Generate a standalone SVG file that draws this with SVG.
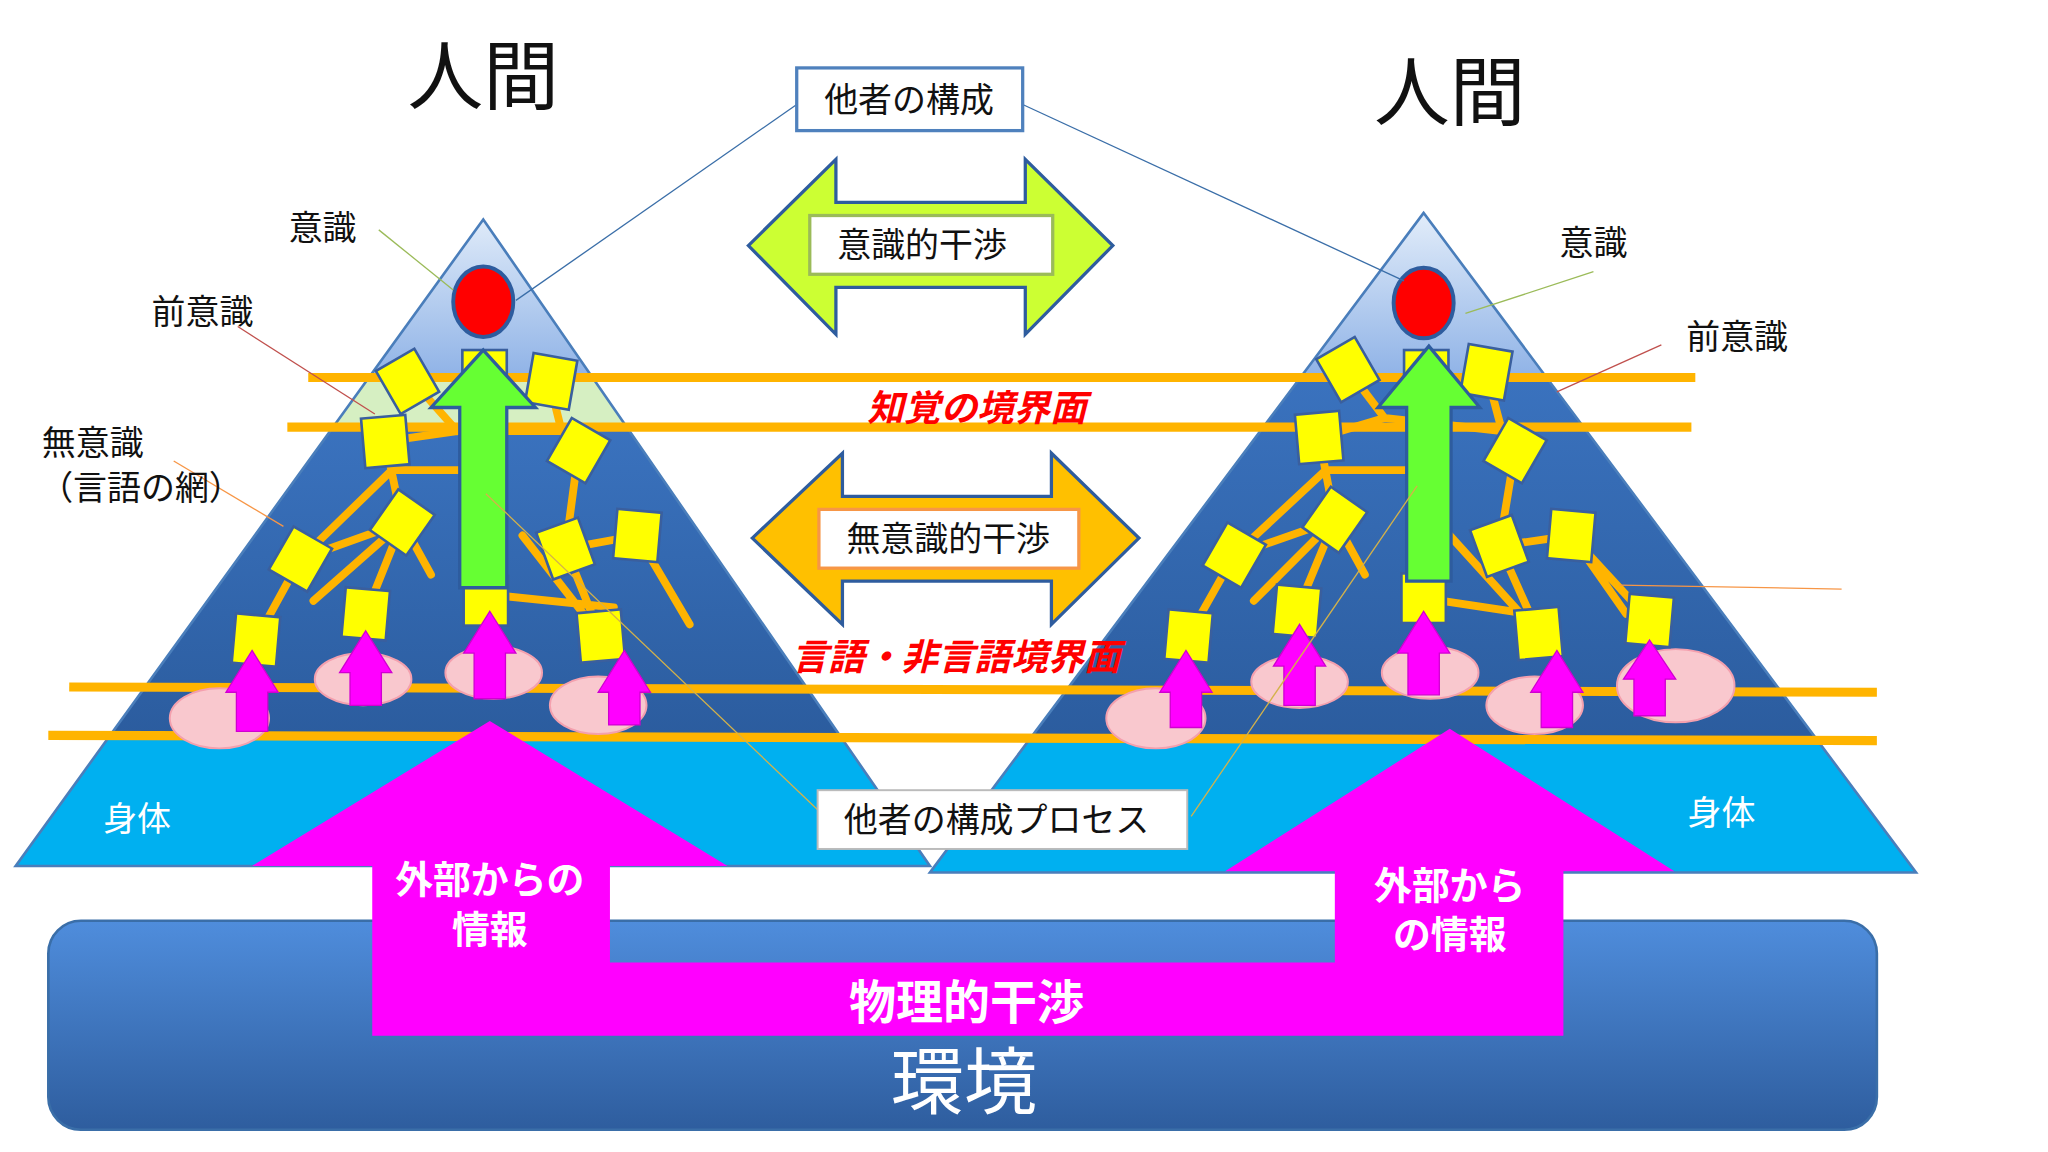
<svg xmlns="http://www.w3.org/2000/svg" width="2048" height="1152" viewBox="0 0 2048 1152">
<defs>
<style>
.jp{font-family:"Noto Sans CJK JP","Noto Sans CJK SC",sans-serif}
.lbl{font-size:26px;fill:#111}
.bx{fill:#fff;stroke:#4F81BD;stroke-width:2.5}
.ol{stroke:#FFB400;stroke-width:7;fill:none}
.net{stroke:#FFB400;stroke-width:6;fill:none;stroke-linecap:round}
.sq{fill:#FFFF00;stroke:#3A5F9E;stroke-width:2}
.pk{fill:#F9C8CE;stroke:#F4A0AE;stroke-width:1.5}
.mg{fill:#FF00FF;stroke:#D000D0;stroke-width:1}
.wt{fill:#fff;font-weight:bold}
.rd{fill:#FF0000;font-weight:bold;font-style:italic;font-size:28px}
</style>
<linearGradient id="top" x1="0" y1="0" x2="0" y2="1"><stop offset="0" stop-color="#E4EEFA"/><stop offset="1" stop-color="#8DB1E6"/></linearGradient>
<linearGradient id="dk" x1="0" y1="0" x2="0" y2="1"><stop offset="0" stop-color="#3A72BE"/><stop offset="1" stop-color="#2B5C9E"/></linearGradient>
<linearGradient id="env" x1="0" y1="0" x2="0" y2="1"><stop offset="0" stop-color="#4F8DDC"/><stop offset="1" stop-color="#2E5D9E"/></linearGradient>
<clipPath id="cl"><polygon points="370,168 12,663 712,663"/></clipPath>
<clipPath id="cr"><polygon points="1090,163 712,668 1467,668"/></clipPath>
<rect id="s" x="-17" y="-19" width="34" height="38" class="sq"/>
</defs>
<g transform="scale(1.3061)">
<g id="pyramid-left">
<g clip-path="url(#cl)">
<rect x="0" y="160" width="720" height="132" fill="url(#top)"/>
<rect x="0" y="290" width="720" height="38" fill="#D6EFC2"/>
<rect x="0" y="327" width="720" height="240" fill="url(#dk)"/>
<rect x="0" y="565" width="720" height="100" fill="#00B0F0"/>
</g>
<polygon points="370,168 12,663 712,663" fill="none" stroke="#4A7EBB" stroke-width="2"/>
</g>
<g id="pyramid-right">
<g clip-path="url(#cr)">
<rect x="700" y="160" width="780" height="132" fill="url(#top)"/>
<rect x="700" y="290" width="780" height="280" fill="url(#dk)"/>
<rect x="700" y="568" width="780" height="102" fill="#00B0F0"/>
</g>
<polygon points="1090,163 712,668 1467,668" fill="none" stroke="#4A7EBB" stroke-width="2"/>
</g>
<g id="network">
<path class="net" d="M196,490 L230,428 L308,400 L295,338 L350,330 L430,330 L443,345 L433,420 L488,410 L528,478 M230,428 L300,360 L370,360 M308,400 L280,470 M433,420 L460,487 M372,460 L372,500 M372,455 L470,465 M400,410 L460,487 M310,285 L350,330 M420,290 L430,330 M240,460 L308,400 L330,440"/>
<path class="net" d="M910,487 L945,425 L1022,398 L1010,335 L1060,320 L1150,330 L1160,345 L1148,418 L1203,410 L1245,470 M945,425 L1015,360 L1080,360 M1022,398 L993,468 M1148,418 L1178,485 M1090,458 L1170,470 M1110,410 L1178,485 M1032,283 L1060,320 M1138,285 L1150,330 M960,460 L1022,398 L1045,440 M1203,410 L1263,475"/>
</g>
<g id="boundaries">
<line class="ol" x1="236" y1="289" x2="1298" y2="289"/>
<line class="ol" x1="220" y1="327" x2="1295" y2="327"/>
<line class="ol" x1="53" y1="526" x2="1437" y2="530"/>
<line class="ol" x1="37" y1="563" x2="1437" y2="567"/>
</g>
<g id="ellipses">
<ellipse class="pk" cx="168" cy="550" rx="38" ry="23"/>
<ellipse class="pk" cx="278" cy="520" rx="37" ry="20"/>
<ellipse class="pk" cx="378" cy="515" rx="37" ry="20"/>
<ellipse class="pk" cx="458" cy="540" rx="37" ry="22"/>
<ellipse class="pk" cx="885" cy="550" rx="38" ry="23"/>
<ellipse class="pk" cx="995" cy="522" rx="37" ry="20"/>
<ellipse class="pk" cx="1095" cy="515" rx="37" ry="20"/>
<ellipse class="pk" cx="1175" cy="540" rx="37" ry="22"/>
<ellipse class="pk" cx="1283" cy="525" rx="45" ry="28"/>
</g>
<g id="squares">
<use href="#s" transform="translate(312,292) rotate(-30)"/>
<use href="#s" transform="translate(422,292) rotate(10)"/>
<use href="#s" transform="translate(295,338) rotate(-5)"/>
<use href="#s" transform="translate(443,345) rotate(30)"/>
<use href="#s" transform="translate(308,400) rotate(35)"/>
<use href="#s" transform="translate(230,428) rotate(30)"/>
<use href="#s" transform="translate(433,420) rotate(-20)"/>
<use href="#s" transform="translate(488,410) rotate(5)"/>
<use href="#s" transform="translate(280,470) rotate(5)"/>
<use href="#s" transform="translate(196,490) rotate(5)"/>
<use href="#s" transform="translate(372,460)"/>
<use href="#s" transform="translate(460,487) rotate(-5)"/>
<use href="#s" transform="translate(1032,283) rotate(-30)"/>
<use href="#s" transform="translate(1138,285) rotate(10)"/>
<use href="#s" transform="translate(1010,335) rotate(-5)"/>
<use href="#s" transform="translate(1160,345) rotate(30)"/>
<use href="#s" transform="translate(1022,398) rotate(35)"/>
<use href="#s" transform="translate(945,425) rotate(30)"/>
<use href="#s" transform="translate(1148,418) rotate(-20)"/>
<use href="#s" transform="translate(1203,410) rotate(5)"/>
<use href="#s" transform="translate(993,468) rotate(5)"/>
<use href="#s" transform="translate(910,487) rotate(5)"/>
<use href="#s" transform="translate(1090,458)"/>
<use href="#s" transform="translate(1178,485) rotate(-5)"/>
<use href="#s" transform="translate(1263,475) rotate(5)"/>
<rect class="sq" x="354" y="268" width="34" height="40"/>
<rect class="sq" x="1075" y="268" width="34" height="40"/>
</g>
<g id="small-arrows">
<polygon class="mg" points="193,498 213,530 205,530 205,560 181,560 181,530 173,530"/>
<polygon class="mg" points="280,483 300,515 292,515 292,540 268,540 268,515 260,515"/>
<polygon class="mg" points="375,468 395,500 387,500 387,535 363,535 363,500 355,500"/>
<polygon class="mg" points="478,498 498,530 490,530 490,555 466,555 466,530 458,530"/>
<polygon class="mg" points="908,498 928,530 920,530 920,557 896,557 896,530 888,530"/>
<polygon class="mg" points="995,478 1015,510 1007,510 1007,540 983,540 983,510 975,510"/>
<polygon class="mg" points="1090,468 1110,500 1102,500 1102,532 1078,532 1078,500 1070,500"/>
<polygon class="mg" points="1192,498 1212,530 1204,530 1204,557 1180,557 1180,530 1172,530"/>
<polygon class="mg" points="1263,490 1283,520 1275,520 1275,548 1251,548 1251,520 1243,520"/>
</g>
<g id="conscious">
<ellipse cx="370" cy="231" rx="23" ry="27" fill="#FF0000" stroke="#2E5C9E" stroke-width="3"/>
<ellipse cx="1090" cy="232" rx="23" ry="27" fill="#FF0000" stroke="#2E5C9E" stroke-width="3"/>
<polygon points="370,268 410,312 388,312 388,450 352,450 352,312 330,312" fill="#66FF33" stroke="#2E5C9E" stroke-width="2.5"/>
<polygon points="1094,265 1133,312 1111,312 1111,445 1077,445 1077,312 1055,312" fill="#66FF33" stroke="#2E5C9E" stroke-width="2.5"/>
</g>
<g id="environment">
<rect x="37" y="705" width="1400" height="160" rx="25" fill="url(#env)" stroke="#3A6EA8" stroke-width="2"/>
<text x="738" y="848" class="jp" font-size="56" fill="#fff" text-anchor="middle">環境</text>
</g>
<g id="physical">
<path d="M375,552 L557,663 L467,663 L467,737 L1022,737 L1022,667 L938,667 L1110,558 L1282,667 L1197,667 L1197,793 L285,793 L285,663 L193,663 Z" fill="#FF00FF"/>
<text x="375" y="684" class="jp wt" font-size="29" text-anchor="middle">外部からの</text>
<text x="375" y="722" class="jp wt" font-size="29" text-anchor="middle">情報</text>
<text x="1110" y="688" class="jp wt" font-size="29" text-anchor="middle">外部から</text>
<text x="1110" y="726" class="jp wt" font-size="29" text-anchor="middle">の情報</text>
<text x="740" y="780" class="jp wt" font-size="36" text-anchor="middle">物理的干渉</text>
</g>
<g id="connectors" fill="none" stroke-width="1">
<line x1="610" y1="80" x2="395" y2="230" stroke="#3A6EA8"/>
<line x1="783" y1="80" x2="1075" y2="215" stroke="#3A6EA8"/>
<line x1="626" y1="620" x2="372" y2="378" stroke="#D4B24A"/>
<line x1="912" y1="625" x2="1085" y2="372" stroke="#D4B24A"/>
<line x1="290" y1="176" x2="347" y2="222" stroke="#9BBB59"/>
<line x1="182" y1="250" x2="287" y2="317" stroke="#C0504D"/>
<line x1="133" y1="353" x2="217" y2="403" stroke="#F79646"/>
<line x1="1220" y1="208" x2="1122" y2="240" stroke="#9BBB59"/>
<line x1="1272" y1="264" x2="1192" y2="300" stroke="#C0504D"/>
<line x1="1240" y1="448" x2="1410" y2="451" stroke="#F79646"/>
</g>
<g id="green-arrow">
<polygon points="573,188 640,122 640,155 785,155 785,122 852,188 785,256 785,220 640,220 640,256" fill="#CCFF33" stroke="#2E5C9E" stroke-width="2.5"/>
<rect x="620" y="165" width="186" height="45" fill="#fff" stroke="#9BBB59" stroke-width="2.5"/>
<text x="706" y="197" class="jp lbl" text-anchor="middle">意識的干渉</text>
</g>
<g id="orange-arrow">
<polygon points="576,412 645,347 645,380 805,380 805,347 872,412 805,478 805,445 645,445 645,478" fill="#FFC000" stroke="#2E5C9E" stroke-width="2.5"/>
<rect x="627" y="390" width="199" height="45" fill="#fff" stroke="#F79646" stroke-width="2.5"/>
<text x="726" y="422" class="jp lbl" text-anchor="middle">無意識的干渉</text>
</g>
<g id="box-other">
<rect x="610" y="52" width="173" height="48" class="bx"/>
<text x="696" y="86" class="jp lbl" text-anchor="middle">他者の構成</text>
</g>
<g id="box-process">
<rect x="626" y="605" width="283" height="45" fill="#fff" stroke="#BBBBBB" stroke-width="1.5"/>
<text x="763" y="637" class="jp lbl" text-anchor="middle">他者の構成プロセス</text>
</g>
<g id="labels">
<text x="370" y="80" class="jp" font-size="58" fill="#111" text-anchor="middle">人間</text>
<text x="1110" y="92" class="jp" font-size="58" fill="#111" text-anchor="middle">人間</text>
<text x="247" y="184" class="jp lbl" text-anchor="middle">意識</text>
<text x="155" y="248" class="jp lbl" text-anchor="middle">前意識</text>
<text x="32" y="348" class="jp lbl">無意識</text>
<text x="30" y="383" class="jp lbl">（言語の網）</text>
<text x="1220" y="195" class="jp lbl" text-anchor="middle">意識</text>
<text x="1330" y="267" class="jp lbl" text-anchor="middle">前意識</text>
<text x="105" y="636" class="jp" font-size="26" fill="#fff" text-anchor="middle">身体</text>
<text x="1318" y="632" class="jp" font-size="26" fill="#fff" text-anchor="middle">身体</text>
<text x="748" y="322" class="jp rd" text-anchor="middle">知覚の境界面</text>
<text x="732" y="513" class="jp rd" text-anchor="middle">言語・非言語境界面</text>
</g>
</g>
</svg>
